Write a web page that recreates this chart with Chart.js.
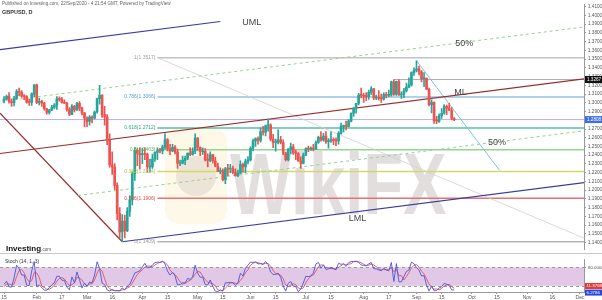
<!DOCTYPE html>
<html><head><meta charset="utf-8">
<script src="https://cdn.jsdelivr.net/npm/chart.js@4.4.1/dist/chart.umd.min.js"></script>
<style>
html,body{margin:0;padding:0;background:#fff;}
#wrap{position:relative;width:602px;height:300px;overflow:hidden;background:#fff;}
#main{position:absolute;left:0;top:0;}
#stoch{position:absolute;left:0;top:255px;}
</style></head><body>
<div id="wrap"><canvas id="main" width="602" height="254"></canvas><canvas id="stoch" width="602" height="45"></canvas></div>
<script>
// ---------- DATA (day index 0 = 15 Jan 2020, one slot per weekday) ----------
const opens = [1.3025,1.3042,1.3073,1.3015,1.3002,1.3050,1.3130,1.3120,1.3076,1.3070,1.3007,1.3005,1.3103,
1.3206,1.3005,1.3018,1.2997,1.2932,1.2890,1.2917,1.2948,1.2974,1.3046,1.3040,1.3002,1.2995,1.2925,1.2868,1.2960,1.2918,1.2993,1.2940,1.2882,
1.2824,1.2786,1.2836,1.2825,1.2895,1.3048,1.3085,1.2865,1.2840,1.2570,1.2290,1.2265,1.2055,1.1730,1.1520,1.1645,1.1535,1.1758,1.1887,1.2185,1.2455,1.2420,
1.2405,1.2415,1.2410,1.2265,1.2270,1.2356,1.2433,1.2453,1.2448,1.2495,1.2580,1.2473,1.2448,1.2490,1.2435,1.2305,1.2310,1.2340,1.2365,1.2425,1.2410,1.2445,
1.2595,1.2490,1.2440,1.2445,1.2345,1.2340,1.2405,1.2335,1.2275,1.2215,1.2220,1.2120,1.2245,1.2240,1.2245,1.2200,1.2165,1.2195,1.2295,1.2265,1.2330,
1.2345,1.2480,1.2565,1.2590,1.2570,1.2670,1.2665,1.2740,1.2745,1.2585,1.2545,1.2550,1.2575,1.2545,1.2425,1.2350,1.2470,1.2495,1.2425,1.2420,1.2335,1.2305,
1.2400,1.2475,1.2470,1.2480,1.2470,1.2545,1.2605,1.2575,1.2620,1.2555,1.2565,1.2580,1.2570,1.2565,1.2650,1.2730,1.2735,1.2730,1.2790,1.2880,1.2940,1.2995,1.3090,
1.3085,1.3075,1.3070,1.3120,1.3160,1.3055,1.3060,1.3050,1.3045,1.3095,1.3085,1.3090,1.3240,1.3095,1.3245,1.3090,1.3095,1.3135,1.3180,1.3205,1.3345,
1.3370,1.3390,1.3355,1.3275,1.3280,1.3155,1.2980,1.3005,1.2795,1.2790,1.2855,1.2880,1.2960,1.2940,1.2915,1.2820];
const highs = [1.3070,1.3088,1.3118,1.3045,1.3073,1.3152,1.3170,1.3140,1.3095,1.3083,1.3043,1.3115,1.3208,
1.3215,1.3055,1.3030,1.3005,1.2938,1.2925,1.2970,1.2990,1.3070,1.3068,1.3063,1.3033,1.3006,1.2946,1.2980,1.2972,1.3006,1.3013,1.2952,1.2890,
1.2840,1.2855,1.2850,1.2905,1.3055,1.3200,1.3095,1.2960,1.2865,1.2645,1.2440,1.2303,1.2083,1.1800,1.1721,1.1715,1.1800,1.1935,1.2210,1.2486,1.2476,1.2485,
1.2482,1.2485,1.2425,1.2355,1.2413,1.2440,1.2485,1.2478,1.2515,1.2647,1.2590,1.2525,1.2525,1.2510,1.2470,1.2345,1.2390,1.2390,1.2425,1.2484,1.2485,1.2645,
1.2602,1.2495,1.2485,1.2475,1.2415,1.2438,1.2410,1.2375,1.2310,1.2255,1.2245,1.2262,1.2296,1.2295,1.2275,1.2245,1.2230,1.2335,1.2310,1.2355,1.2385,
1.2495,1.2585,1.2600,1.2610,1.2713,1.2730,1.2745,1.2813,1.2760,1.2640,1.2585,1.2690,1.2615,1.2575,1.2435,1.2475,1.2540,1.2525,1.2460,1.2430,1.2380,1.2425,
1.2485,1.2505,1.2495,1.2525,1.2565,1.2620,1.2670,1.2650,1.2670,1.2590,1.2667,1.2600,1.2600,1.2670,1.2768,1.2745,1.2790,1.2808,1.2885,1.2945,1.2995,1.3110,1.3170,
1.3110,1.3118,1.3145,1.3185,1.3165,1.3090,1.3140,1.3100,1.3115,1.3120,1.3145,1.3250,1.3267,1.3250,1.3265,1.3125,1.3165,1.3225,1.3285,1.3355,1.3400,
1.3482,1.3420,1.3370,1.3345,1.3285,1.3170,1.3035,1.3010,1.2845,1.2875,1.2935,1.2980,1.2975,1.2995,1.2945,1.2830];
const lows = [1.3000,1.3030,1.2995,1.2960,1.2965,1.3040,1.3080,1.3063,1.3035,1.2995,1.2970,1.2970,1.3070,
1.2990,1.2975,1.2960,1.2915,1.2870,1.2870,1.2910,1.2930,1.2925,1.3020,1.2996,1.2990,1.2905,1.2853,1.2865,1.2895,1.2912,1.2910,1.2860,1.2725,
1.2726,1.2745,1.2770,1.2815,1.2880,1.2984,1.2833,1.2745,1.2520,1.2262,1.2180,1.2005,1.1660,1.1450,1.1409,1.1452,1.1525,1.1700,1.1830,1.2110,1.2281,1.2243,
1.2303,1.2348,1.2205,1.2205,1.2248,1.2330,1.2350,1.2425,1.2415,1.2470,1.2448,1.2405,1.2440,1.2415,1.2248,1.2280,1.2300,1.2292,1.2350,1.2395,1.2400,1.2418,
1.2455,1.2395,1.2410,1.2335,1.2265,1.2325,1.2310,1.2265,1.2210,1.2185,1.2105,1.2075,1.2165,1.2200,1.2185,1.2160,1.2155,1.2190,1.2205,1.2200,1.2300,
1.2335,1.2450,1.2500,1.2525,1.2550,1.2630,1.2622,1.2675,1.2565,1.2485,1.2445,1.2530,1.2530,1.2405,1.2335,1.2335,1.2415,1.2410,1.2350,1.2330,1.2250,1.2300,
1.2395,1.2440,1.2455,1.2450,1.2465,1.2535,1.2560,1.2560,1.2535,1.2480,1.2545,1.2520,1.2510,1.2525,1.2640,1.2667,1.2690,1.2725,1.2780,1.2845,1.2880,1.2975,1.3055,
1.3005,1.3025,1.3040,1.3095,1.3035,1.3035,1.3030,1.3005,1.3030,1.3055,1.3070,1.3075,1.3085,1.3085,1.3085,1.3050,1.3060,1.3125,1.3170,1.3190,1.3315,
1.3355,1.3320,1.3240,1.3185,1.3150,1.2965,1.2885,1.2765,1.2760,1.2775,1.2820,1.2870,1.2865,1.2910,1.2805,1.2795];
const closes = [1.3042,1.3073,1.3015,1.3002,1.3050,1.3130,1.3120,1.3076,1.3070,1.3007,1.3005,1.3103,1.3206,
1.3005,1.3018,1.2997,1.2932,1.2890,1.2917,1.2948,1.2974,1.3046,1.3040,1.3002,1.2995,1.2925,1.2868,1.2960,1.2918,1.2993,1.2940,1.2882,1.2824,
1.2786,1.2836,1.2825,1.2895,1.3048,1.3085,1.2865,1.2840,1.2570,1.2290,1.2265,1.2055,1.1730,1.1520,1.1645,1.1535,1.1758,1.1887,1.2185,1.2455,1.2420,1.2405,
1.2415,1.2410,1.2265,1.2270,1.2356,1.2433,1.2453,1.2448,1.2495,1.2580,1.2473,1.2448,1.2490,1.2435,1.2305,1.2310,1.2340,1.2365,1.2425,1.2410,1.2445,1.2595,
1.2490,1.2440,1.2445,1.2345,1.2340,1.2405,1.2335,1.2275,1.2215,1.2220,1.2120,1.2245,1.2240,1.2245,1.2200,1.2165,1.2195,1.2295,1.2265,1.2330,1.2345,
1.2480,1.2565,1.2590,1.2570,1.2670,1.2665,1.2740,1.2745,1.2585,1.2545,1.2550,1.2575,1.2545,1.2425,1.2350,1.2470,1.2495,1.2425,1.2420,1.2335,1.2305,1.2400,
1.2475,1.2470,1.2480,1.2470,1.2545,1.2605,1.2575,1.2620,1.2555,1.2565,1.2580,1.2570,1.2565,1.2650,1.2730,1.2735,1.2730,1.2790,1.2880,1.2940,1.2995,1.3090,1.3085,
1.3075,1.3070,1.3120,1.3160,1.3055,1.3060,1.3050,1.3045,1.3095,1.3085,1.3090,1.3240,1.3095,1.3245,1.3090,1.3095,1.3135,1.3180,1.3205,1.3345,1.3370,
1.3390,1.3355,1.3275,1.3280,1.3155,1.2980,1.3005,1.2795,1.2790,1.2855,1.2880,1.2960,1.2940,1.2915,1.2820,1.2808];
const stochK = [25,35,17,16,46,87,76,55,55,22,21,68,99,
18,23,15,6,6,14,23,30,51,51,38,38,16,7,49,30,65,40,13,29,
18,32,30,55,98,76,29,24,7,3,8,4,4,4,13,7,19,25,43,62,65,69,
81,93,79,79,88,95,97,96,100,92,68,55,64,52,23,24,30,29,44,41,49,87,
61,48,48,24,23,39,18,3,1,7,3,30,30,31,30,22,30,61,52,77,87,
97,96,97,91,92,89,99,89,65,57,57,61,48,19,3,28,34,19,18,1,10,29,
51,50,52,62,91,96,77,88,73,75,79,75,72,93,90,91,83,95,99,99,100,96,88,
86,85,91,96,76,75,72,69,77,71,69,96,34,92,33,33,50,67,71,97,92,
79,71,52,53,23,3,20,4,5,13,17,28,25,21,7,6.2786];
const stochD = [17,26,26,23,26,50,70,73,62,44,33,37,63,
62,47,19,15,9,9,14,22,35,44,47,42,31,20,24,29,48,45,39,27,
20,26,27,39,61,76,68,43,20,11,6,5,5,4,7,8,13,17,29,43,57,65,
72,81,84,84,82,87,93,96,98,96,87,72,62,57,46,33,26,28,34,38,45,59,
66,65,52,40,32,29,27,20,7,4,4,13,21,30,30,28,27,38,48,63,72,
87,93,97,95,93,91,93,92,84,70,60,58,55,43,23,17,22,27,24,13,10,13,
30,43,51,55,68,83,88,87,79,79,76,76,75,80,85,91,88,90,92,98,99,98,95,
90,86,87,91,88,82,74,72,73,72,72,79,66,74,53,53,39,50,63,78,87,
89,81,67,59,43,26,15,9,10,7,12,19,23,25,18,11.3768];
const tickIdx  = [0,13,23,33,43,55,65,77,87,98,108,120,130,143,153,164,174,186,196,208,218,229];
const tickText = ['15','Feb','17','Mar','16','Apr','15','May','15','Jun','15','Jul','15','Aug','17','Sep','15','Oct','15','Nov','16','Dec'];
const priceTicks = [1.14,1.15,1.16,1.17,1.18,1.19,1.20,1.21,1.22,1.23,1.24,1.25,1.26,1.27,1.28,1.29,1.30,1.31,1.32,1.33,1.34,1.35,1.36,1.37,1.38,1.39,1.40,1.41];
const fibLevels = [0,0.236,0.382,0.5,0.618,0.786,1];
const fibPrices = [1.1409,1.1906,1.2214,1.2463,1.2712,1.3066,1.3517];
const fibSpan = [61,234];                 // day index where the Fibonacci tool starts / ends
const pitchA = [-96,1.2072];              // Andrews pitchfork pivots (day index, price)
const pitchB = [-23,1.3530];
const pitchC = [47,1.1409];
const swingLine = [[164,1.3482],[197,1.2227]];
const ray1327 = [155,1.3267];
const lastPrice = 1.2808;
const pitchNotes = [['UML',98.5,1.3914],['ML',181.5,1.3120],['LML',140.5,1.1676],['50%',183,1.3682],['50%',196,1.2547]];

// ---------- styling / helpers ----------
const X_MIN = -1.6, X_MAX = 230.6;
const FONT = 'Liberation Sans, Arial, sans-serif';
const UP = '#26a69a', DN = '#ef5350';
const fibCol = ['#b5b5b5','#e57373','#d2d86a','#93d593','#55c2a4','#93c3e6','#c4c4c4'];
const fibTxt = ['#9a9a9a','#d9534f','#b9bf3c','#5cb85c','#2fa889','#5c9fd2','#a0a0a0'];
const idx = closes.map((_, i) => i);
const colFor = c => closes[c.dataIndex] >= opens[c.dataIndex] ? UP : DN;
const M = [(pitchB[0]+pitchC[0])/2, (pitchB[1]+pitchC[1])/2];
const slope = (M[1]-pitchA[1])/(M[0]-pitchA[0]);
const ray = (p, x1) => [{x:p[0], y:p[1]}, {x:x1, y:p[1] + slope*(x1-p[0])}];
const along = t => [pitchB[0]+t*(pitchC[0]-pitchB[0]), pitchB[1]+t*(pitchC[1]-pitchB[1])];
function lineDS(data, color, width, dash, order){
  return {type:'line', data, borderColor:color, borderWidth:width, borderDash:dash||[], pointRadius:0,
          fill:false, tension:0, order:order ?? 2, clip:0};
}
const fibSets = fibPrices.map((p,k) => lineDS([{x:fibSpan[0],y:p},{x:fibSpan[1],y:p}], fibCol[k], 1.5, [], 5));

const mainDatasets = [
  {type:'bar', data: idx.map(i => ({x:i, y:[lows[i], highs[i]]})), backgroundColor: colFor, barThickness:1, grouped:false, order:0},
  {type:'bar', data: idx.map(i => ({x:i, y:[opens[i], closes[i]]})), backgroundColor: colFor, barThickness:2, grouped:false, minBarLength:1, order:0},
  ...fibSets,
  lineDS([{x:fibSpan[0],y:fibPrices[6]},{x:fibSpan[1],y:fibPrices[0]}], '#cfcfcf', 0.8, [], 4),
  lineDS([{x:X_MIN-2,y:lastPrice},{x:X_MAX+2,y:lastPrice}], '#b8b0e8', 1, [], 4),
  lineDS([{x:ray1327[0],y:ray1327[1]},{x:X_MAX+2,y:ray1327[1]}], '#b0b0b0', 1, [], 4),
  lineDS(swingLine.map(p => ({x:p[0],y:p[1]})), '#7fc6d6', 1, [], 3),
  lineDS(ray(pitchB, 86), '#3b3b9e', 1.2, [], 1),
  lineDS(ray(pitchA, X_MAX+2), '#9b2b2b', 1.2, [], 1),
  lineDS(ray(pitchC, X_MAX+2), '#3b3b9e', 1.2, [], 1),
  lineDS(ray(along(0.25), X_MAX+2), '#95d095', 1, [3,3], 1),
  lineDS(ray(along(0.75), X_MAX+2), '#95d095', 1, [3,3], 1),
  lineDS([{x:pitchB[0],y:pitchB[1]},{x:pitchC[0],y:pitchC[1]}], '#9b2b2b', 1.2, [], 1)
];

const mainPlugin = {
  id:'mainDeco',
  beforeDraw(ch){ const c=ch.ctx; c.save(); c.fillStyle='#fff'; c.fillRect(0,0,ch.width,ch.height); c.restore(); },
  beforeDatasetsDraw(ch){
    const c = ch.ctx; c.save();
    c.fillStyle='rgba(250,225,150,0.22)';
    c.beginPath(); c.roundRect(165,128,62,96,14); c.fill();
    c.fillStyle='rgba(140,130,130,0.16)';
    c.beginPath(); c.arc(196,176,20,0,Math.PI*2); c.fill();
    c.translate(230,214); c.scale(0.74,1);
    c.font='bold 88px '+FONT; c.fillStyle='rgba(150,138,138,0.28)';
    c.fillText('WikiFX',0,0);
    c.restore();
  },
  afterDatasetsDraw(ch){
    const c = ch.ctx, x = ch.scales.x, y = ch.scales.y; c.save();
    c.font = '5px '+FONT; c.textAlign='right'; c.textBaseline='middle';
    fibPrices.forEach((p,k) => { c.fillStyle=fibTxt[k]; c.fillText(fibLevels[k]+'('+p.toFixed(4)+')', x.getPixelForValue(fibSpan[0])-2, y.getPixelForValue(p)); });
    c.font = '9px '+FONT; c.fillStyle='#444'; c.textAlign='center';
    pitchNotes.forEach(n => c.fillText(n[0], x.getPixelForValue(n[1]), y.getPixelForValue(n[2])));
    c.restore();
  },
  afterDraw(ch){
    const c = ch.ctx, y = ch.scales.y, a = ch.chartArea; c.save();
    c.textBaseline='middle'; c.textAlign='left';
    c.fillStyle='#666'; c.font='4.6px '+FONT;
    c.fillText('Published on Investing.com, 22/Sep/2020 - 4:21:54 GMT, Powered by TradingView', 2, 4);
    c.fillStyle='#333'; c.font='bold 5.5px '+FONT;
    c.fillText('GBPUSD, D', 2, 12.5);
    c.textBaseline='alphabetic'; c.fillStyle='#111'; c.font='bold 8px '+FONT;
    c.fillText('Investing', 6, 251);
    const w = c.measureText('Investing').width;
    c.font='4.6px '+FONT; c.fillStyle='#555'; c.fillText('.com', 6+w, 251);
    c.strokeStyle='#c8c8c8'; c.lineWidth=1; c.beginPath(); c.moveTo(0,253.5); c.lineTo(602,253.5); c.stroke();
    const tag = (p, bg, txt) => { const py=y.getPixelForValue(p); c.fillStyle=bg; c.fillRect(a.right+1, py-3.5, 17, 7);
      c.fillStyle='#fff'; c.font='4.6px '+FONT; c.textBaseline='middle'; c.textAlign='left'; c.fillText(txt, a.right+3, py); };
    tag(ray1327[1], '#111', ray1327[1].toFixed(4));
    tag(lastPrice, '#3d6ee8', lastPrice.toFixed(4));
    c.restore();
  }
};

new Chart(document.getElementById('main'), {
  type:'bar',
  data:{datasets: mainDatasets},
  options:{
    responsive:false, animation:false, devicePixelRatio:1,
    layout:{padding:0},
    plugins:{legend:{display:false}, tooltip:{enabled:false}},
    scales:{
      x:{type:'linear', min:X_MIN, max:X_MAX, offset:false, display:false, grid:{offset:false}},
      y:{type:'linear', position:'right', min:1.1323, max:1.4123, beginAtZero:false,
         afterFit: s => { s.width = 18; },
         afterBuildTicks: s => { s.ticks = priceTicks.map(v => ({value:v})); },
         ticks:{font:{size:4.6, family:FONT}, color:'#555', padding:2, autoSkip:false, callback: v => Number(v).toFixed(4)},
         grid:{drawOnChartArea:false, drawTicks:true, tickLength:2, color:'#999'},
         border:{display:true, color:'#999'}}
    }
  },
  plugins:[mainPlugin]
});

const stochPlugin = {
  id:'stochDeco',
  beforeDraw(ch){ const c=ch.ctx; c.save(); c.fillStyle='#fff'; c.fillRect(0,0,ch.width,ch.height); c.restore(); },
  beforeDatasetsDraw(ch){
    const c=ch.ctx, y=ch.scales.y, a=ch.chartArea; c.save();
    const y80=y.getPixelForValue(80), y20=y.getPixelForValue(20);
    c.fillStyle='rgba(175,110,190,0.38)'; c.fillRect(a.left, y80, a.right-a.left, y20-y80);
    c.strokeStyle='#9a9a9a'; c.setLineDash([3,3]); c.lineWidth=1;
    [y80,y20].forEach(v => { c.beginPath(); c.moveTo(a.left, Math.round(v)+0.5); c.lineTo(a.right, Math.round(v)+0.5); c.stroke(); });
    c.restore();
  },
  afterDraw(ch){
    const c=ch.ctx, y=ch.scales.y, a=ch.chartArea; c.save();
    c.fillStyle='#333'; c.font='5px '+FONT; c.textBaseline='middle'; c.textAlign='left';
    c.fillText('Stoch (14, 1, 3)', 5, 7);
    const dv = stochD[stochD.length-1], kv = stochK[stochK.length-1];
    const box = (py, bg, txt) => { c.fillStyle=bg; c.fillRect(a.right+1, py-3, 17, 6); c.fillStyle='#fff'; c.font='4.4px '+FONT; c.fillText(txt, a.right+2.5, py); };
    box(y.getPixelForValue(dv)-2.5, '#e53935', dv.toFixed(4));
    box(y.getPixelForValue(kv)+2.5, '#2845e0', kv.toFixed(4));
    c.restore();
  }
};

new Chart(document.getElementById('stoch'), {
  type:'line',
  data:{datasets:[
    {data: idx.map(i => ({x:i, y:stochK[i]})), borderColor:'#4a55d8', borderWidth:0.9, pointRadius:0, tension:0, clip:0},
    {data: idx.map(i => ({x:i, y:stochD[i]})), borderColor:'#e0506a', borderWidth:0.9, pointRadius:0, tension:0, clip:0}
  ]},
  options:{
    responsive:false, animation:false, devicePixelRatio:1,
    layout:{padding:0},
    plugins:{legend:{display:false}, tooltip:{enabled:false}},
    scales:{
      x:{type:'linear', min:X_MIN, max:X_MAX, offset:false, position:'bottom',
         afterFit: s => { s.height = 8; },
         afterBuildTicks: s => { s.ticks = tickIdx.map(v => ({value:v})); },
         ticks:{autoSkip:false, maxRotation:0, font:{size:5, family:FONT}, color:'#555', padding:1, callback:(v,i) => tickText[i]},
         grid:{drawOnChartArea:false, tickLength:2, color:'#999'}, border:{display:true, color:'#999'}},
      y:{type:'linear', position:'right', min:0, max:105,
         afterFit: s => { s.width = 18; },
         afterBuildTicks: s => { s.ticks = [{value:80}]; },
         ticks:{font:{size:4.4, family:FONT}, color:'#555', padding:2, callback: v => Number(v).toFixed(4)},
         grid:{drawOnChartArea:false, tickLength:2, color:'#999'}, border:{display:true, color:'#999'}}
    }
  },
  plugins:[stochPlugin]
});
</script></body></html>
